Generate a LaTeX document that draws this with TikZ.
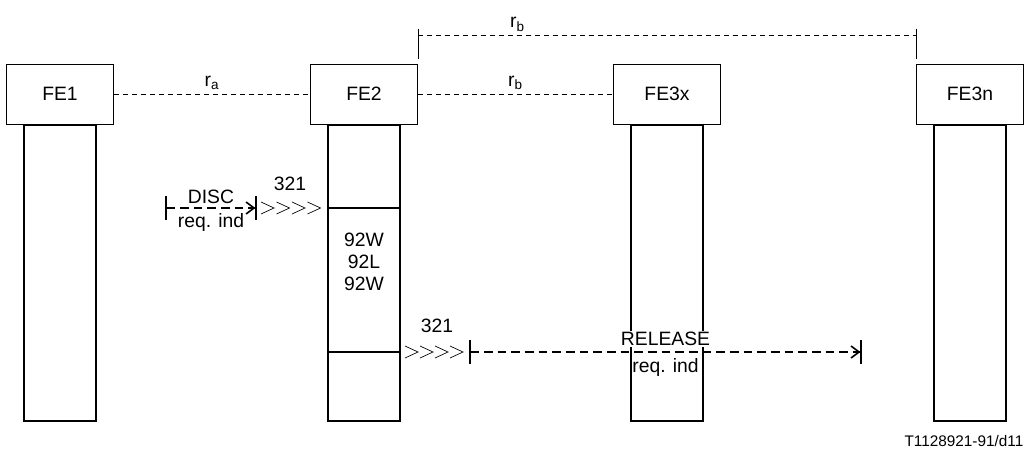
\documentclass[tikz,border=0pt]{standalone}
\usepackage{fontspec}
\setmainfont{Liberation Sans}
\usetikzlibrary{arrows.meta,positioning,calc}

\begin{document}
\begin{tikzpicture}[x=0.75pt,y=-0.75pt,
  fe/.style={draw,line width=0.6pt,minimum width=80.25pt,minimum height=45pt,inner sep=0pt,font=\fontsize{14.5}{17}\selectfont},
  life/.style={draw,line width=1.3pt,minimum width=54pt,minimum height=222pt,inner sep=0pt},
  iface/.style={line width=0.6pt,dash pattern=on 3.75pt off 3pt},
  msg/.style={line width=1.2pt,dash pattern=on 6.5pt off 3.75pt,{Bar[width=18pt]}-{Straight Barb[length=6pt,width=9pt]Bar[width=18pt]}},
  chev/.style={line width=0.5pt},
  lbl/.style={font=\fontsize{14.5}{17}\selectfont,inner sep=1pt}]
  \useasboundingbox (0,0) rectangle (1029,453);
  % Functional entities and their lifelines
  \node[fe] (fe1) at (60,94) {FE1};
  \node[fe] (fe2) at (364,94) {FE2};
  \node[fe] (fe3x) at (667,94) {FE3x};
  \node[fe] (fe3n) at (970,94) {FE3n};
  \node[life,below=0pt of fe1] (l1) {};
  \node[life,below=0pt of fe2] (l2) {};
  \node[life,below=0pt of fe3x] (l3x) {};
  \node[life,below=0pt of fe3n] (l3n) {};
  % Relationships
  \draw[iface] (fe1) -- (fe2) node[midway,above,lbl,yshift=2pt] {r\textsubscript{a}};
  \draw[iface] (fe2) -- (fe3x) node[midway,above,lbl,yshift=2pt] {r\textsubscript{b}};
  \coordinate (rb0) at ($(fe2.north east)+(0,-28)$);
  \coordinate (rb1) at ($(fe3n.north west)+(0,-28)$);
  \draw[iface] (rb0) -- (rb1) node[pos=0.2,above,lbl,yshift=2pt] {r\textsubscript{b}};
  \draw[line width=0.6pt] ([yshift=5.25pt]rb0) -- ([yshift=-17.25pt]rb0);
  \draw[line width=0.6pt] ([yshift=5.25pt]rb1) -- ([yshift=-17.25pt]rb1);
  % DISC req. ind into FE2
  \coordinate (disc0) at (165,208);
  \coordinate (disc1) at (257,208);
  \draw[msg] (disc0) -- (disc1)
    node[midway,above=2pt,lbl] {DISC}
    node[midway,below=2.5pt,lbl] {req. ind};
  \foreach \i in {0,...,3}
    \draw[chev] ($(disc1)+(4+15.5*\i,-6)$) -- ++(13,6) -- ++(-13,6);
  \node[lbl] (n321a) at (290,184) {321};
  \draw[line width=1.3pt] (l2.west |- disc1) -- (l2.east |- disc1);
  \node[lbl,align=center,font=\fontsize{14.5}{16.5}\selectfont] (sig) at (364,262) {92W\\92L\\92W};
  % RELEASE req. ind from FE2
  \coordinate (rel0) at (469,352);
  \coordinate (rel1) at (862,352);
  \draw[line width=1.3pt] (l2.west |- rel0) -- (l2.east |- rel0);
  \foreach \i in {0,...,3}
    \draw[chev] ($(rel0)+(-64+15*\i,-6)$) -- ++(13,6) -- ++(-13,6);
  \node[lbl] (n321b) at (437,326) {321};
  \draw[msg] (rel0) -- (rel1)
    node[midway,above=3pt,lbl,fill=white] {RELEASE}
    node[midway,below=3pt,lbl] {req. ind};
  \node[font=\fontsize{11.5}{13}\selectfont,anchor=east] (fig) at (1028,441) {T1128921-91/d11};
\end{tikzpicture}
\end{document}
